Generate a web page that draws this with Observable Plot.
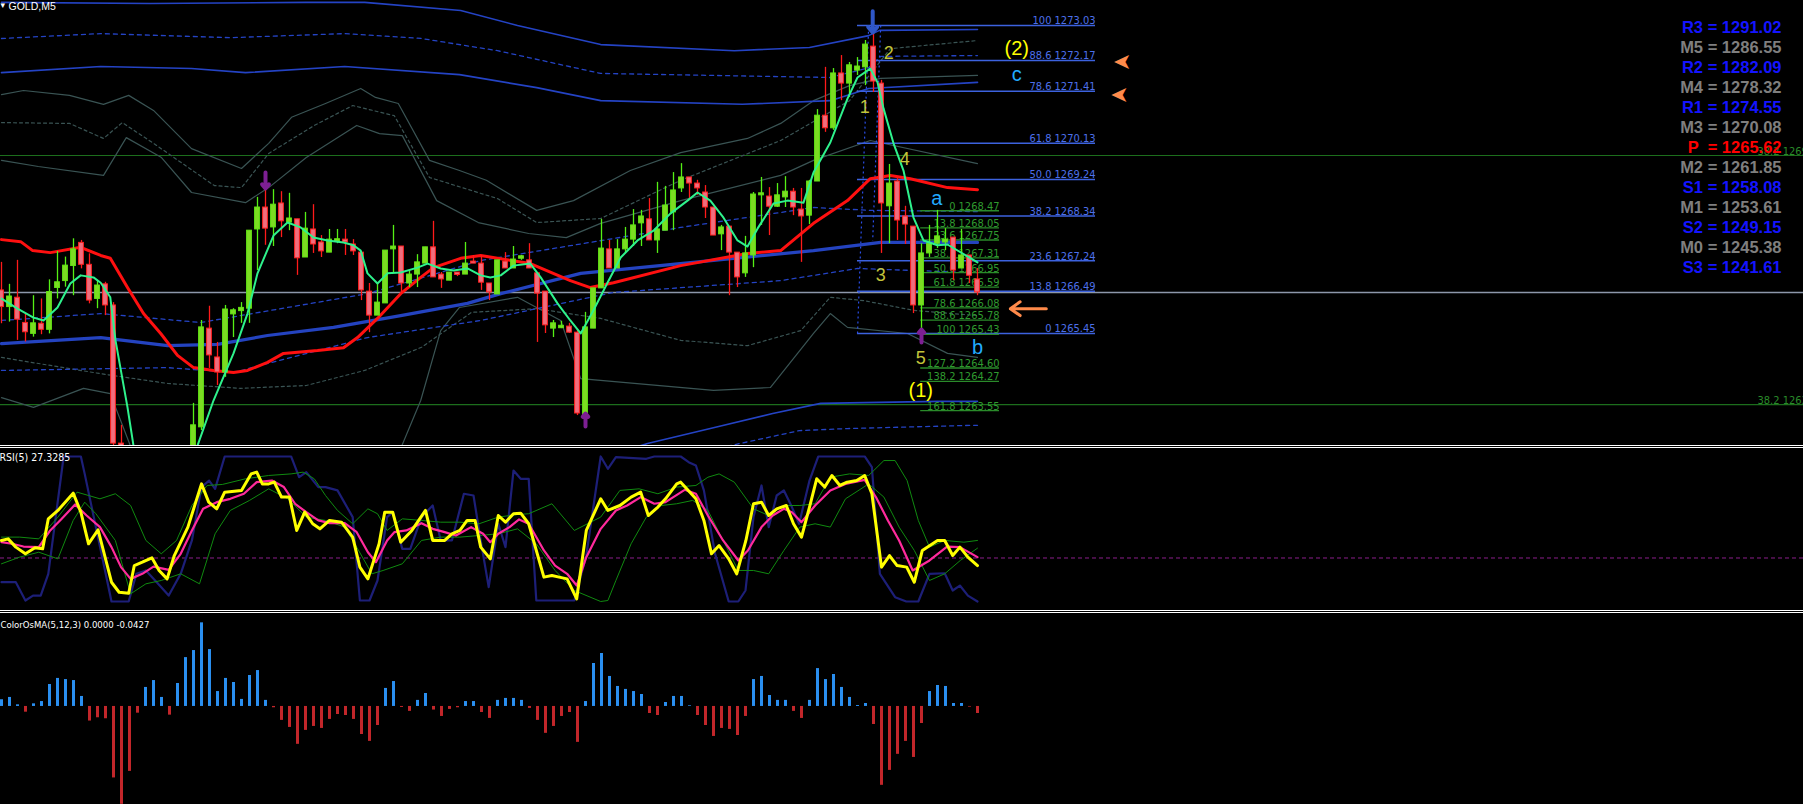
<!DOCTYPE html>
<html><head><meta charset="utf-8">
<script src="https://cdn.jsdelivr.net/npm/d3@7"></script>
<script src="https://cdn.jsdelivr.net/npm/@observablehq/plot@0.6"></script>
<style>
html,body{margin:0;padding:0;background:#000;}
#wrap{width:1803px;height:804px;background:#000;overflow:hidden;}
.pane{position:relative;overflow:hidden;width:1803px;background:#000;}
.sep{height:3px;width:1803px;box-sizing:border-box;border-top:1px solid #fff;border-bottom:1px solid #fff;background:#000;}
svg{display:block}
text{white-space:pre}
</style></head><body><div id="wrap"></div>
<script>
// ---------------- DATA ----------------
const symbolLabel = "GOLD,M5";
const openP = [1266.51,1266.10,1266.33,1265.71,1265.44,1265.69,1265.54,1266.57,1266.74,1267.11,
1267.68,1267.14,1266.30,1266.66,1266.14,1262.74,1261.95,1261.50,1261.40,1261.90,
1262.10,1261.85,1262.05,1262.35,1262.20,1263.14,1265.57,1264.86,1264.49,1265.92,
1266.02,1266.06,1268.01,1268.55,1268.06,1268.65,1268.18,1268.26,1267.32,1268.01,
1267.69,1267.44,1267.73,1267.76,1267.64,1267.44,1266.48,1265.89,1266.19,1267.52,
1267.59,1266.68,1266.90,1267.17,1267.57,1266.90,1266.75,1266.93,1266.90,1267.22,
1267.17,1266.68,1266.41,1267.22,1267.05,1267.31,1267.25,1266.93,1266.48,1265.57,
1265.60,1265.62,1265.47,1263.43,1265.57,1266.56,1267.52,1267.05,1267.52,1267.76,
1268.16,1268.26,1267.74,1267.98,1268.43,1269.02,1269.29,1269.14,1268.92,1268.55,
1267.89,1268.08,1267.44,1266.93,1267.37,1268.85,1268.82,1268.57,1268.80,1268.94,
1268.50,1268.35,1269.19,1270.81,1270.50,1271.85,1271.60,1271.92,1272.00,1272.51,
1271.60,1268.58,1269.19,1268.33,1268.08,1266.14,1267.42,1267.66,1267.71,1267.81,
1267.05,1267.37,1266.78];
const highP = [1267.20,1266.66,1267.25,1265.93,1266.38,1266.30,1266.77,1267.47,1267.33,1267.78,
1267.74,1267.41,1266.75,1266.71,1266.21,1263.19,1262.20,1261.90,1262.10,1262.30,
1262.40,1262.20,1262.50,1262.60,1263.73,1265.77,1266.12,1265.23,1266.14,1266.06,
1266.21,1267.98,1268.80,1269.22,1268.99,1268.94,1268.90,1268.26,1268.43,1268.62,
1267.86,1268.01,1268.01,1268.01,1267.76,1267.44,1266.68,1266.68,1267.49,1268.11,
1267.59,1267.00,1267.39,1267.57,1268.21,1266.95,1266.95,1266.95,1267.69,1267.37,
1267.37,1266.68,1267.25,1267.44,1267.59,1267.37,1267.66,1266.93,1266.48,1265.77,
1265.75,1265.70,1265.52,1265.97,1266.56,1268.26,1267.74,1267.76,1268.06,1268.50,
1268.48,1268.77,1269.17,1269.07,1269.41,1269.63,1269.29,1269.22,1269.09,1268.55,
1268.11,1268.08,1267.44,1267.84,1268.92,1269.29,1269.04,1269.14,1269.31,1269.02,
1269.02,1269.22,1270.96,1272.00,1271.97,1272.29,1272.12,1272.24,1272.66,1273.03,
1271.68,1269.61,1269.26,1268.58,1268.08,1267.66,1268.11,1268.48,1268.03,1267.81,
1268.01,1267.37,1267.05];
const lowP = [1265.69,1265.73,1265.28,1265.24,1265.36,1265.42,1265.44,1266.30,1266.59,1266.38,
1267.04,1266.18,1266.06,1265.89,1262.40,1261.70,1261.30,1261.10,1261.20,1261.60,
1261.70,1261.50,1261.90,1262.00,1262.05,1263.06,1264.59,1264.17,1264.37,1265.35,
1265.70,1265.70,1267.00,1267.62,1267.59,1267.81,1267.98,1266.88,1267.32,1267.42,
1267.32,1267.44,1267.66,1267.37,1267.37,1266.26,1265.47,1265.89,1266.19,1266.95,
1266.43,1266.58,1266.58,1267.17,1266.83,1266.56,1266.75,1266.85,1266.90,1267.17,
1266.51,1266.26,1266.41,1267.05,1267.05,1267.25,1267.05,1265.23,1265.45,1265.35,
1265.57,1265.45,1263.43,1263.43,1265.57,1266.56,1267.05,1267.05,1267.44,1267.59,
1267.59,1267.74,1267.42,1267.98,1267.98,1268.92,1268.72,1268.85,1268.28,1267.86,
1267.49,1266.38,1266.58,1266.83,1267.07,1268.11,1267.86,1268.55,1268.55,1268.35,
1267.20,1268.13,1269.19,1270.40,1270.45,1271.18,1271.26,1271.80,1271.55,1271.38,
1267.42,1267.66,1267.74,1267.64,1265.94,1265.45,1267.32,1267.54,1267.49,1266.75,
1267.05,1266.68,1266.38];
const closeP = [1266.10,1266.36,1265.79,1265.48,1265.70,1265.54,1266.47,1266.71,1267.12,1267.52,
1267.14,1266.26,1266.63,1266.14,1262.74,1261.95,1261.50,1261.40,1261.90,1262.10,
1261.85,1262.05,1262.35,1262.20,1263.19,1265.60,1264.91,1264.49,1266.04,1266.02,
1266.06,1267.98,1268.55,1268.03,1268.62,1268.21,1268.28,1267.30,1268.03,1267.64,
1267.47,1267.76,1267.75,1267.69,1267.47,1266.51,1265.89,1266.21,1267.49,1267.59,
1266.68,1266.90,1267.20,1267.57,1266.83,1266.78,1266.95,1266.91,1267.17,1267.17,
1266.70,1266.46,1267.25,1267.05,1267.27,1267.33,1267.05,1266.43,1265.65,1265.70,
1265.62,1265.47,1263.48,1265.60,1266.56,1267.54,1267.05,1267.52,1267.76,1268.11,
1268.33,1267.74,1268.01,1268.60,1268.97,1269.29,1269.14,1269.02,1268.55,1267.86,
1268.06,1267.44,1266.83,1267.42,1268.87,1268.90,1268.57,1268.85,1268.94,1268.55,
1268.33,1269.19,1270.81,1270.50,1271.85,1271.60,1272.05,1272.02,1272.56,1271.65,
1268.65,1269.14,1268.23,1268.13,1266.14,1267.42,1267.66,1267.84,1267.74,1267.00,
1267.37,1266.87,1266.46];

// indicator lines on the price pane: [bar, price]
const maFast = [[0,1266.31],[2,1266.06],[4,1265.84],[5.25,1265.77],[7,1266.09],[8.6,1266.68],[9.9,1266.88],[11.5,1266.83],[12.4,1266.70],[13.6,1266.34],[14.25,1265.28],[15.75,1263.63],[16.5,1262.69],[18.5,1261.80],[20.5,1261.50],[22.5,1261.90],[24.5,1262.69],[26.5,1263.80],[29,1264.96],[30.75,1265.94],[32,1266.93],[34,1267.86],[35.75,1268.18],[37.4,1268.06],[39,1267.81],[40.75,1267.74],[42.75,1267.69],[44,1267.62],[44.9,1267.49],[45.75,1266.93],[47,1266.68],[48.25,1266.93],[49.9,1266.95],[52,1267.07],[53.25,1267.17],[54.9,1267.05],[56.5,1267.00],[58.25,1267.05],[59.9,1266.88],[61.1,1266.83],[62.4,1266.88],[64,1267.12],[66.1,1267.17],[67.4,1266.83],[69.5,1266.19],[71.1,1265.77],[72.4,1265.45],[74,1266.02],[75.75,1266.70],[77.4,1267.32],[79.5,1267.74],[81.5,1267.98],[83.6,1268.40],[85.75,1268.72],[87,1268.92],[88.6,1268.72],[90.25,1268.30],[92,1267.74],[93.25,1267.59],[94.5,1268.03],[96.5,1268.65],[98.25,1268.72],[100.25,1268.67],[101.5,1269.41],[103.6,1270.15],[105.75,1271.23],[107,1271.75],[108.6,1271.97],[109.5,1271.63],[110.25,1270.99],[111.5,1270.13],[112.75,1269.46],[114,1268.30],[115.25,1267.74],[117,1267.62],[118.25,1267.64],[122,1267.20]];
const maRed = [[0,1267.76],[2.4,1267.71],[3.9,1267.49],[6.1,1267.44],[9.9,1267.57],[12.4,1267.37],[13.6,1267.30],[15.75,1266.58],[17.75,1265.94],[19.9,1265.45],[22,1264.91],[24,1264.61],[26.5,1264.54],[29,1264.49],[30.75,1264.54],[33.25,1264.74],[35.25,1264.96],[39.5,1265.03],[42.75,1265.10],[44.5,1265.35],[47,1265.82],[49.9,1266.43],[52.4,1266.83],[54,1267.07],[57.4,1267.30],[59.9,1267.37],[66.1,1267.17],[71.1,1266.75],[73.6,1266.58],[76.5,1266.70],[84.9,1267.12],[93.25,1267.42],[97.4,1267.49],[101.5,1268.16],[105.75,1268.72],[108.6,1269.26],[111.1,1269.34],[113.6,1269.26],[118.25,1269.04],[122,1268.99]];
const maBlue = [[0,1265.20],[12.4,1265.35],[20.75,1265.15],[27,1265.18],[33.25,1265.40],[41.5,1265.60],[49.9,1265.89],[58.25,1266.19],[62.4,1266.43],[72.4,1266.93],[89,1267.25],[101.5,1267.49],[109.9,1267.69],[122,1267.69]];
const chanUpper1 = [[0,1273.60],[18.6,1273.57],[38.1,1273.60],[45.4,1273.60],[57.4,1273.40],[64.5,1273.03],[74.9,1272.56],[91.6,1272.41],[101,1272.49],[108.4,1272.78],[109.75,1272.91],[122,1272.93]];
const chanUpperDash = [[0,1272.71],[12.4,1272.83],[28.6,1272.73],[42.9,1272.83],[52.5,1272.71],[62,1272.41],[74.9,1271.85],[103.6,1271.75],[108.4,1271.99],[109.9,1272.27],[122,1272.29]];
const chanUpper2 = [[0,1271.87],[12.4,1272.02],[23.75,1271.97],[30.5,1271.87],[42.9,1272.02],[57.25,1271.82],[66.9,1271.50],[74.9,1271.18],[92.6,1271.09],[103.6,1271.18],[108.4,1271.48],[122,1271.63]];
const chanLower1 = [[70,1262.10],[80.75,1262.74],[89.25,1263.14],[96.4,1263.48],[102.4,1263.73],[117,1263.78],[122,1263.78]];
const chanLowerDash = [[84,1262.30],[91.1,1262.69],[99.75,1263.06],[105.75,1263.11],[121.5,1263.19],[122,1263.19]];
const chanMidUpper = [[0,1265.77],[12.4,1265.94],[24.9,1265.72],[45.75,1266.43],[60,1267.25],[84.9,1268.06],[101.5,1268.55],[108.6,1268.48],[122,1268.45]];
const chanMidLower = [[0,1264.54],[20.75,1264.61],[29,1264.49],[45.75,1265.35],[59.9,1265.77],[76.5,1266.46],[97.4,1266.75],[107,1267.05],[114,1267.00],[122,1266.95]];
const bandUpper1 = [[0,1271.33],[2.75,1271.43],[8.5,1271.31],[12.75,1271.09],[15.9,1271.31],[19,1270.94],[23.75,1270.00],[30,1269.51],[33.4,1270.13],[36.25,1270.77],[40.5,1271.11],[44.9,1271.48],[46.75,1271.26],[49.6,1271.11],[53.5,1269.71],[57.25,1269.46],[60.6,1269.22],[66.9,1268.48],[71.5,1268.72],[78.6,1269.46],[84.9,1269.90],[93.25,1270.25],[97.4,1270.62],[101.5,1271.18],[106,1271.55],[109.9,1271.73],[122,1271.80]];
const bandUpperDash = [[0,1270.64],[8.5,1270.62],[12.75,1270.25],[15.1,1270.64],[19,1270.13],[26.6,1269.09],[30,1269.04],[33.4,1269.88],[39.1,1270.57],[43.9,1271.06],[49.1,1270.81],[53.5,1269.29],[62,1268.77],[66.9,1268.18],[74.9,1268.28],[84.9,1269.22],[97.4,1270.20],[106,1271.18],[111.1,1272.46],[122,1272.66]];
const bandUpper2 = [[0,1269.71],[4.6,1269.56],[12.75,1269.34],[15.6,1270.27],[20,1269.78],[23.75,1268.92],[30.5,1268.67],[33.4,1269.04],[38.1,1269.78],[44.4,1270.57],[47.25,1270.37],[50.1,1270.32],[54.4,1268.72],[59.6,1268.18],[65.9,1267.91],[70.6,1267.81],[74.9,1268.16],[84.9,1268.72],[97.4,1269.34],[101.5,1269.71],[108.6,1270.20],[122,1269.63]];
const bandLowerDash = [[0,1264.86],[12.4,1264.46],[20.75,1264.22],[29.9,1264.10],[38.1,1264.17],[45.4,1264.54],[52.5,1265.11],[58.75,1265.97],[66.9,1266.06],[74.9,1265.82],[84.9,1265.28],[93.25,1265.15],[99.9,1265.52],[103.6,1266.34],[107.75,1266.26],[114,1266.02],[122,1265.89]];
const bandLower1 = [[0,1263.87],[4,1263.63],[10.25,1264.10],[13.6,1263.97],[16.1,1262.69],[28.6,1262.08],[49.9,1262.62],[52.4,1263.80],[54.9,1265.52],[57.25,1266.09],[64.5,1266.34],[69.9,1265.77],[72.4,1264.34],[89,1264.05],[96.1,1264.12],[101.5,1265.45],[103.6,1265.94],[105.75,1265.60],[113.25,1265.45],[118.25,1264.96],[122,1264.86]];

// horizontal levels
const greenLevels = [1269.83, 1263.70];
const bidPrice = 1266.46;
const greenLevelLabels = ["38.2 1269.83", "38.2 1263.7"];

// Fibonacci retracements
const fibBlueLevels = ["100","88.6","78.6","61.8","50.0","38.2","23.6","13.8","0"];
const fibBluePrices = [1273.03,1272.17,1271.41,1270.13,1269.24,1268.34,1267.24,1266.49,1265.45];
const fibBlueSpan = [107, 136.75];
const fibGreenLevels = ["0","13.8","23.6","38.2","50.0","61.8","78.6","88.6","100","127.2","138.2","161.8"];
const fibGreenPrices = [1268.47,1268.05,1267.75,1267.31,1266.95,1266.59,1266.08,1265.78,1265.43,1264.60,1264.27,1263.55];
const fibGreenSpan = [114.9, 124.75];

// wave labels [bar, price]
const waveText = ["1","2","3","4","5"];
const waveBar = [107.9,110.9,109.9,112.9,114.9];
const wavePrice = [1271.01,1272.34,1266.88,1269.73,1264.83];
const degreeText = ["(2)","(1)"];
const degreeBar = [126.9,114.9];
const degreePrice = [1272.46,1264.05];
const abcText = ["a","b","c"];
const abcBar = [116.9,122,126.9];
const abcPrice = [1268.77,1265.11,1271.82];

// arrows
const orangeArrowBar = [140.1, 139.75];
const orangeArrowPrice = [1272.14, 1271.33];
const orangeLong = {fromBar:130.6, toBar:126.1, price:1266.06};
const fractalBar = [33, 73, 115];
const fractalFrom = [1269.41, 1263.16, 1265.23];
const fractalTo = [1269.02, 1263.48, 1265.55];
const topArrow = {bar:108.9, from:1273.38, to:1272.86};

// pivot table
const pivotNames = ["R3","M5","R2","M4","R1","M3","P","M2","S1","M1","S2","M0","S3"];
const pivotValues = [1291.02,1286.55,1282.09,1278.32,1274.55,1270.08,1265.62,1261.85,1258.08,1253.61,1249.15,1245.38,1241.61];

// RSI pane [bar, value]
const rsiLabel = "RSI(5) 27.3285";
const rsiLevel = 30;
const rsiYellow = [[0,42.1],[0.83,43.2],[1.79,37.5],[2.99,32.9],[4.18,37.0],[5.14,36.3],[5.85,57.0],[7.05,62.8],[8.96,74.7],[9.92,61.6],[10.88,39.8],[12.07,49.4],[13.75,13.3],[14.7,6.4],[15.9,5.7],[16.6,24.8],[17.6,27.1],[18.8,30.1],[19.7,21.4],[20.7,15.6],[21.6,31.7],[23.3,51.3],[25,81.1],[25.9,68.5],[26.9,63.9],[27.9,75.4],[30,76.6],[31.2,88.0],[31.9,89.2],[32.6,81.1],[33.4,81.1],[34.1,82.3],[35,72.0],[36,72.0],[36.9,49.0],[37.9,61.6],[38.9,53.6],[39.8,50.1],[41,55.9],[42.5,54.7],[43.9,44.4],[44.8,23.7],[45.8,15.6],[47.2,39.8],[47.9,61.6],[48.9,61.6],[49.9,40.9],[51.3,49.0],[53,62.8],[53.9,42.1],[55.4,42.1],[56.3,46.7],[57.3,49.0],[58.2,55.9],[59.2,55.9],[59.9,37.5],[61.1,29.4],[62.1,59.3],[63,54.7],[64,60.5],[64.9,60.9],[65.9,53.6],[67.8,16.8],[68.8,17.9],[69.7,16.8],[70.7,15.6],[71.9,1.8],[73.1,49.0],[74.9,70.8],[75.8,62.8],[77.3,66.2],[78.7,72.0],[79.9,75.4],[80.85,59.3],[82.05,65.1],[83,70.8],[84.4,81.1],[84.9,82.3],[86.8,70.8],[87.8,55.9],[88.75,32.9],[89.7,38.6],[90.9,29.4],[91.9,19.1],[93.05,42.1],[94,67.4],[95,68.5],[95.9,59.3],[96.9,63.9],[98.1,66.2],[99,53.6],[100,44.4],[101,65.1],[101.9,84.6],[102.9,78.9],[103.8,86.9],[104.8,80.0],[105.7,82.3],[106.9,83.4],[107.9,86.9],[108.8,74.3],[110,23.7],[111,31.7],[111.95,24.8],[113.15,23.7],[114.1,13.3],[115.1,35.2],[117,42.1],[117.9,42.1],[118.9,31.7],[119.8,37.5],[120.8,30.6],[122,24.8]];
const rsiPink = [[0,40.9],[1.31,39.8],[2.75,37.9],[4.66,37.5],[6.09,49],[7.53,57],[9.2,66.9],[10.64,59.3],[12.31,51.3],[13.75,37.5],[14.94,23.7],[16.14,15.6],[17.6,19.1],[19,24.1],[20.9,21.8],[22.4,32.9],[23.8,49],[25.2,63.9],[26.9,68.5],[28.6,70.8],[30.3,74.3],[31.9,82.3],[33.8,83.4],[35.3,78.9],[36.7,67.4],[38.1,61.6],[39.6,55.9],[41,54],[42.9,54],[44.4,47.8],[45.8,34],[46.8,27.1],[48.2,42.1],[49.1,47.8],[50.6,49],[52.5,54],[53.9,50.1],[55.4,47.8],[56.8,45.5],[58.7,51.3],[60.2,46.7],[61.1,40.9],[62.1,46.7],[63.5,51.3],[64.7,56.6],[65.9,53.6],[67.8,35.2],[69.2,24.8],[70.7,19.1],[71.9,11],[73.1,30.6],[74.9,50.1],[76.8,62.8],[78.2,66.2],[79.9,72],[81.6,67.4],[83,68.5],[85.4,77],[86.8,74.3],[88.3,59.3],[90.2,42.1],[92.1,28.3],[93.3,35.2],[95,51.3],[96.4,59.3],[97.8,63.9],[98.8,61.6],[100,54.7],[101.7,66.2],[103.6,76.6],[105.5,81.1],[107.9,83.9],[109.3,72],[110.8,55.9],[112.2,42.1],[113.9,21.4],[116,28.3],[118.2,37.9],[119.8,37.5],[122,30.6]];
const rsiNavy = [[0,13.3],[1.79,13.3],[2.99,0.7],[3.94,4.1],[4.9,4.1],[5.85,19.1],[7.77,100],[9.92,100],[10.4,88],[13.75,0],[15.9,0],[16.86,19.1],[18.05,21.4],[19.97,9.9],[20.9,4.1],[22.4,19.1],[23.8,42.1],[25,78.9],[25.95,83.4],[26.7,77.7],[27.9,100],[36.2,100],[37.2,85.7],[38.1,89.2],[39.6,78.9],[40.5,78.9],[42,76.6],[43.9,58.2],[44.8,0.7],[46,0.7],[47,14.5],[48.2,58.2],[48.9,61.6],[50.1,36.3],[51.1,36.3],[52.5,58.2],[53.9,66.2],[54.9,42.1],[56.3,42.1],[57.8,74.3],[59,73.1],[59.9,42.1],[60.9,9.9],[62.1,53.6],[63,37.5],[64,90.3],[64.9,84.6],[65.9,84.6],[66.85,0.7],[71.6,0.7],[73.1,31.7],[74.9,100],[75.8,91.5],[76.8,99.5],[80.6,98.4],[81.6,100],[84.9,100],[85.9,96.1],[86.8,93.8],[87.8,76.6],[89.2,32.9],[90.9,0],[92.1,0],[93,7.6],[94,58.2],[95,80],[95.9,51.3],[96.9,73.1],[97.8,76.6],[98.8,65.1],[99.7,53.6],[101,83.4],[102.1,100],[107.9,100],[108.8,92.6],[109.8,19.1],[111.7,3],[113.1,0],[114.6,0],[116,19.1],[117.9,19.5],[118.9,7.6],[119.8,11],[120.8,4.1],[122,0]];
const rsiBandUp = [[0,44.4],[2.27,44.4],[4.66,43.2],[7.05,58.2],[9.44,75.4],[10.88,73.1],[12.31,70.8],[14.23,74.3],[16.14,66.2],[18.05,42.1],[19.97,32.9],[21.88,42.1],[23.8,66.2],[25.7,80],[27.6,80.7],[30.5,84.6],[33.4,86.9],[36.2,88],[37.7,89.2],[39.1,84.6],[40.5,73.1],[42,62.8],[43.9,53.6],[45.8,63.9],[47,60.5],[48.2,49],[50.1,57],[52.5,55.9],[54.9,54.7],[57.3,54.7],[59.7,53.6],[62.1,58.2],[64.5,60],[65.9,60.5],[68.8,67.4],[71.6,49],[74.9,58.2],[77.3,76.6],[79.7,77.7],[82.05,74.3],[84.4,78.9],[86.8,80],[88.3,85.7],[89.7,88],[91.6,82.3],[94,63.9],[95.9,59.3],[97.8,66.2],[99.8,66.2],[101.7,67.4],[103.6,85.7],[106,88],[108.4,86.9],[110.3,97.2],[111.7,97.2],[113.2,83.4],[114.6,55.9],[116,37.5],[117.9,42.1],[120.3,40.9],[122,42.1]];
const rsiBandLo = [[0,26],[2.27,30.6],[4.66,34],[7.05,29.4],[8.96,55.9],[10.4,68.5],[11.8,60.5],[14.23,42.1],[16.14,5.3],[18.05,12.2],[19.97,14.5],[22.4,19.1],[24.75,12.2],[26.7,46.7],[28.6,62.8],[31,69.7],[33.4,77.7],[35.8,70.8],[38.1,58.2],[40.5,55.9],[42.9,51.3],[44.4,37.5],[46.3,19.1],[47.7,21.4],[50.1,26],[52.5,42.1],[54.9,44.4],[57.3,44.4],[59.7,45.5],[62.1,46.7],[64.5,50.1],[66.85,39.8],[69.2,21.4],[71.6,7.6],[74.9,0],[75.8,0.7],[76.8,14.5],[78.7,39.8],[80.6,58.2],[82.5,66.2],[84.4,67.4],[86.4,69.7],[88.3,62.8],[90.2,42.1],[92.1,21.4],[94,21.4],[95.9,19.1],[97.8,35.2],[99.8,51.3],[101.7,53.6],[103.6,51.3],[105.5,70.8],[108.4,81.1],[110.3,72],[112.2,51.3],[114.1,35.2],[116,14.5],[117.9,19.1],[119.85,28.3],[122,36.8]];

// OsMA pane
const osmaLabel = "ColorOsMA(5,12,3) 0.0000 -0.0427";
const osma = [0.041,0.055,0.010,-0.035,0.016,0.030,0.134,0.171,0.164,0.158,
0.061,-0.089,-0.069,-0.075,-0.436,-0.597,-0.396,-0.041,0.116,0.158,
0.055,-0.053,0.140,0.298,0.341,0.510,0.347,0.091,0.171,0.146,
0.043,0.189,0.219,0.037,-0.008,-0.085,-0.128,-0.231,-0.146,-0.122,
-0.134,-0.079,-0.049,-0.055,-0.079,-0.171,-0.213,-0.116,0.110,0.152,
-0.006,-0.030,0.037,0.079,-0.022,-0.061,-0.018,-0.008,0.030,0.030,
-0.037,-0.073,0.037,0.049,0.049,0.037,-0.012,-0.085,-0.164,-0.122,
-0.061,-0.037,-0.219,0.030,0.262,0.323,0.183,0.122,0.104,0.091,
0.073,-0.043,-0.055,0.024,0.061,0.061,0.004,-0.055,-0.116,-0.183,
-0.134,-0.140,-0.177,-0.061,0.164,0.183,0.067,0.037,0.037,-0.030,
-0.073,0.037,0.231,0.164,0.195,0.116,0.055,0.006,0.018,-0.110,
-0.481,-0.390,-0.292,-0.213,-0.311,-0.104,0.091,0.128,0.122,0.018,
0.018,-0.004,-0.043];

// ---------------- RENDER ----------------
const W = 1803;
const XD = [-0.125, 225.25];
const FONT = "Liberation Sans, Arial, sans-serif";
const NARROW = "Liberation Sans Narrow, DejaVu Sans Condensed, Liberation Sans, sans-serif";

function pane(h, ydom, marks) {
  return Plot.plot({
    width: W, height: h, margin: 0,
    x: {domain: XD, axis: null},
    y: {domain: ydom, axis: null},
    style: {background: "#000", overflow: "hidden"},
    marks
  });
}
const line = (pts, stroke, sw, dash) => Plot.line(pts, {x: d => d[0], y: d => d[1], stroke, strokeWidth: sw, strokeDasharray: dash});

const candles = openP.map((o, i) => ({i, o, h: highP[i], l: lowP[i], c: closeP[i]}));
const bull = d => d.c >= d.o;
const fibBlue = fibBlueLevels.map((l, k) => ({l, p: fibBluePrices[k]}));
const fibGreen = fibGreenLevels.map((l, k) => ({l, p: fibGreenPrices[k]}));

const mainMarks = [
  Plot.ruleY(greenLevels, {y: d => d, stroke: "#1c6e1c", strokeWidth: 1.2}),
  Plot.ruleY([bidPrice], {y: d => d, stroke: "#8d97aa", strokeWidth: 1.4}),
  // dim bands
  line(bandUpper1, "#3a5454", 1.2),
  line(bandUpperDash, "#3a5454", 1.2, "3,3"),
  line(bandUpper2, "#3a5454", 1.2),
  line(bandLowerDash, "#3a5454", 1.2, "3,3"),
  line(bandLower1, "#3a5454", 1.2),
  // blue channels
  line(chanUpper1, "#2443c4", 1.6),
  line(chanUpperDash, "#2443c4", 1.3, "4,4"),
  line(chanUpper2, "#2443c4", 1.6),
  line(chanLower1, "#2443c4", 1.6),
  line(chanLowerDash, "#2443c4", 1.3, "4,4"),
  line(chanMidUpper, "#2443c4", 1.3, "4,4"),
  line(chanMidLower, "#2443c4", 1.3, "4,4"),
  // fibonacci
  Plot.ruleY(fibBlue, {y: "p", x1: fibBlueSpan[0], x2: fibBlueSpan[1], stroke: "#3c62de", strokeWidth: 1.5}),
  Plot.text(fibBlue, {x: fibBlueSpan[1], y: "p", text: d => `${d.l} ${d.p.toFixed(2)}`, textAnchor: "end", lineAnchor: "bottom", dy: -1, fill: "#4d70ea", fontSize: 11, fontFamily: NARROW}),
  Plot.ruleY(fibGreen, {y: "p", x1: fibGreenSpan[0], x2: fibGreenSpan[1], stroke: "#2a8a2a", strokeWidth: 1.3}),
  Plot.text(fibGreen, {x: fibGreenSpan[1], y: "p", text: d => `${d.l} ${d.p.toFixed(2)}`, textAnchor: "end", lineAnchor: "bottom", dy: -1, fill: "#2f9a2f", fontSize: 11, fontFamily: NARROW}),
  Plot.link([0], {x1: fibBlueSpan[0], y1: fibBluePrices[8], x2: 108.4, y2: fibBluePrices[0], stroke: "#2a4ee8", strokeWidth: 1.2, strokeDasharray: "2,3"}),
  Plot.link([0], {x1: 109.9, y1: fibBluePrices[0], x2: 108.9, y2: 1267.74, stroke: "#2a4ee8", strokeWidth: 1.2, strokeDasharray: "2,3"}),
  // moving averages
  line(maBlue, "#2443c0", 3.2),
  line(maRed, "#ff1010", 3),
  // candles
  Plot.ruleX(candles, {x: "i", y1: "l", y2: "h", stroke: d => bull(d) ? "#55f015" : "#ff1a1a", strokeWidth: 1.3}),
  Plot.rect(candles, {
    x1: d => d.i - 0.3, x2: d => d.i + 0.3,
    y1: d => Math.abs(d.o - d.c) < 0.04 ? Math.min(d.o, d.c) - 0.02 : Math.min(d.o, d.c),
    y2: d => Math.abs(d.o - d.c) < 0.04 ? Math.max(d.o, d.c) + 0.02 : Math.max(d.o, d.c),
    fill: d => bull(d) ? "#7cdc22" : "#ef6e7e",
    stroke: d => bull(d) ? "#62e414" : "#ff2020", strokeWidth: 1
  }),
  line(maFast, "#2ef28c", 2),
  // arrows
  Plot.arrow(fractalBar.map((b, k) => ({b, f: fractalFrom[k], t: fractalTo[k]})), {x1: "b", y1: "f", x2: "b", y2: "t", stroke: "#7d1f93", strokeWidth: 4, headLength: 9, headAngle: 80}),
  Plot.arrow([topArrow], {x1: "bar", y1: "from", x2: "bar", y2: "to", stroke: "#2f57c8", strokeWidth: 4, headLength: 9, headAngle: 80}),
  Plot.arrow([orangeLong], {x1: "fromBar", y1: "price", x2: "toBar", y2: "price", stroke: "#ff8a4a", strokeWidth: 3, headLength: 10, headAngle: 70}),
  Plot.text(orangeArrowBar.map((b, k) => ({b, p: orangeArrowPrice[k]})), {x: "b", y: "p", text: () => "➤", rotate: 180, fill: "#ff8a4a", fontSize: 22, fontFamily: "DejaVu Sans"}),
  // wave labels
  Plot.text(waveText.map((t, k) => ({t, b: waveBar[k], p: wavePrice[k]})), {x: "b", y: "p", text: "t", fill: "#c3c43a", fontSize: 18, fontFamily: FONT}),
  Plot.text(degreeText.map((t, k) => ({t, b: degreeBar[k], p: degreePrice[k]})), {x: "b", y: "p", text: "t", fill: "#ffff00", fontSize: 20, fontFamily: FONT}),
  Plot.text(abcText.map((t, k) => ({t, b: abcBar[k], p: abcPrice[k]})), {x: "b", y: "p", text: "t", fill: "#22aaff", fontSize: 20, fontFamily: FONT}),
  // green level labels at right edge
  Plot.text(greenLevels.map((p, k) => ({p, t: greenLevelLabels[k]})), {frameAnchor: "right", x: null, y: "p", text: "t", textAnchor: "start", lineAnchor: "bottom", dx: -46, dy: -1, fill: "#2a8a2a", fontSize: 11, fontFamily: NARROW}),
  // symbol label
  Plot.text([symbolLabel], {text: d => d, frameAnchor: "top-left", dx: 8, dy: 6, lineAnchor: "middle", fill: "#fff", fontSize: 10.5, fontFamily: FONT}),
  Plot.text(["▾"], {text: d => d, frameAnchor: "top-left", dx: 0, dy: 5, lineAnchor: "middle", fill: "#fff", fontSize: 9, fontFamily: "DejaVu Sans"}),
];
pivotNames.forEach((n, k) => {
  const col = n[0] === "P" ? "#ff0000" : n[0] === "M" ? "#7f7f7f" : "#1414ff";
  mainMarks.push(Plot.text([`${n.padEnd(2, " ")} = ${pivotValues[k].toFixed(2)}`], {text: d => d, frameAnchor: "top-right", dx: -22, dy: 27 + 20 * k, textAnchor: "end", lineAnchor: "middle", fill: col, fontSize: 16.5, fontWeight: "bold", fontFamily: FONT}));
});

const mainSvg = pane(445, [1262.693, 1273.645], mainMarks);

const rsiSvg = pane(162, [-6.2, 105.5], [
  Plot.ruleY([rsiLevel], {y: d => d, stroke: "#8a1f8a", strokeWidth: 1, strokeDasharray: "4,3"}),
  line(rsiNavy, "#1d1f78", 2.2),
  line(rsiBandUp, "#108a10", 1),
  line(rsiBandLo, "#108a10", 1),
  line(rsiPink, "#ff2a9c", 2.2),
  line(rsiYellow, "#ffff00", 3),
  Plot.text([rsiLabel], {text: d => d, frameAnchor: "top-left", dx: -1, dy: 9, lineAnchor: "middle", fill: "#fff", fontSize: 10.5, fontFamily: NARROW})
]);

const osSvg = pane(191, [-0.598, 0.567], [
  Plot.ruleX(osma.map((v, i) => ({i, v})), {x: "i", y1: 0, y2: "v", stroke: d => d.v >= 0 ? "#2a8ff0" : "#c2262a", strokeWidth: 3}),
  Plot.text([osmaLabel], {text: d => d, frameAnchor: "top-left", dx: 0, dy: 11, lineAnchor: "middle", fill: "#fff", fontSize: 9.5, fontFamily: NARROW})
]);

const wrap = document.getElementById("wrap");
function addPane(svg, h) { const d = document.createElement("div"); d.className = "pane"; d.style.height = h + "px"; d.appendChild(svg); wrap.appendChild(d); }
function addSep() { const d = document.createElement("div"); d.className = "sep"; wrap.appendChild(d); }
addPane(mainSvg, 445); addSep(); addPane(rsiSvg, 162); addSep(); addPane(osSvg, 191);
</script></body></html>
